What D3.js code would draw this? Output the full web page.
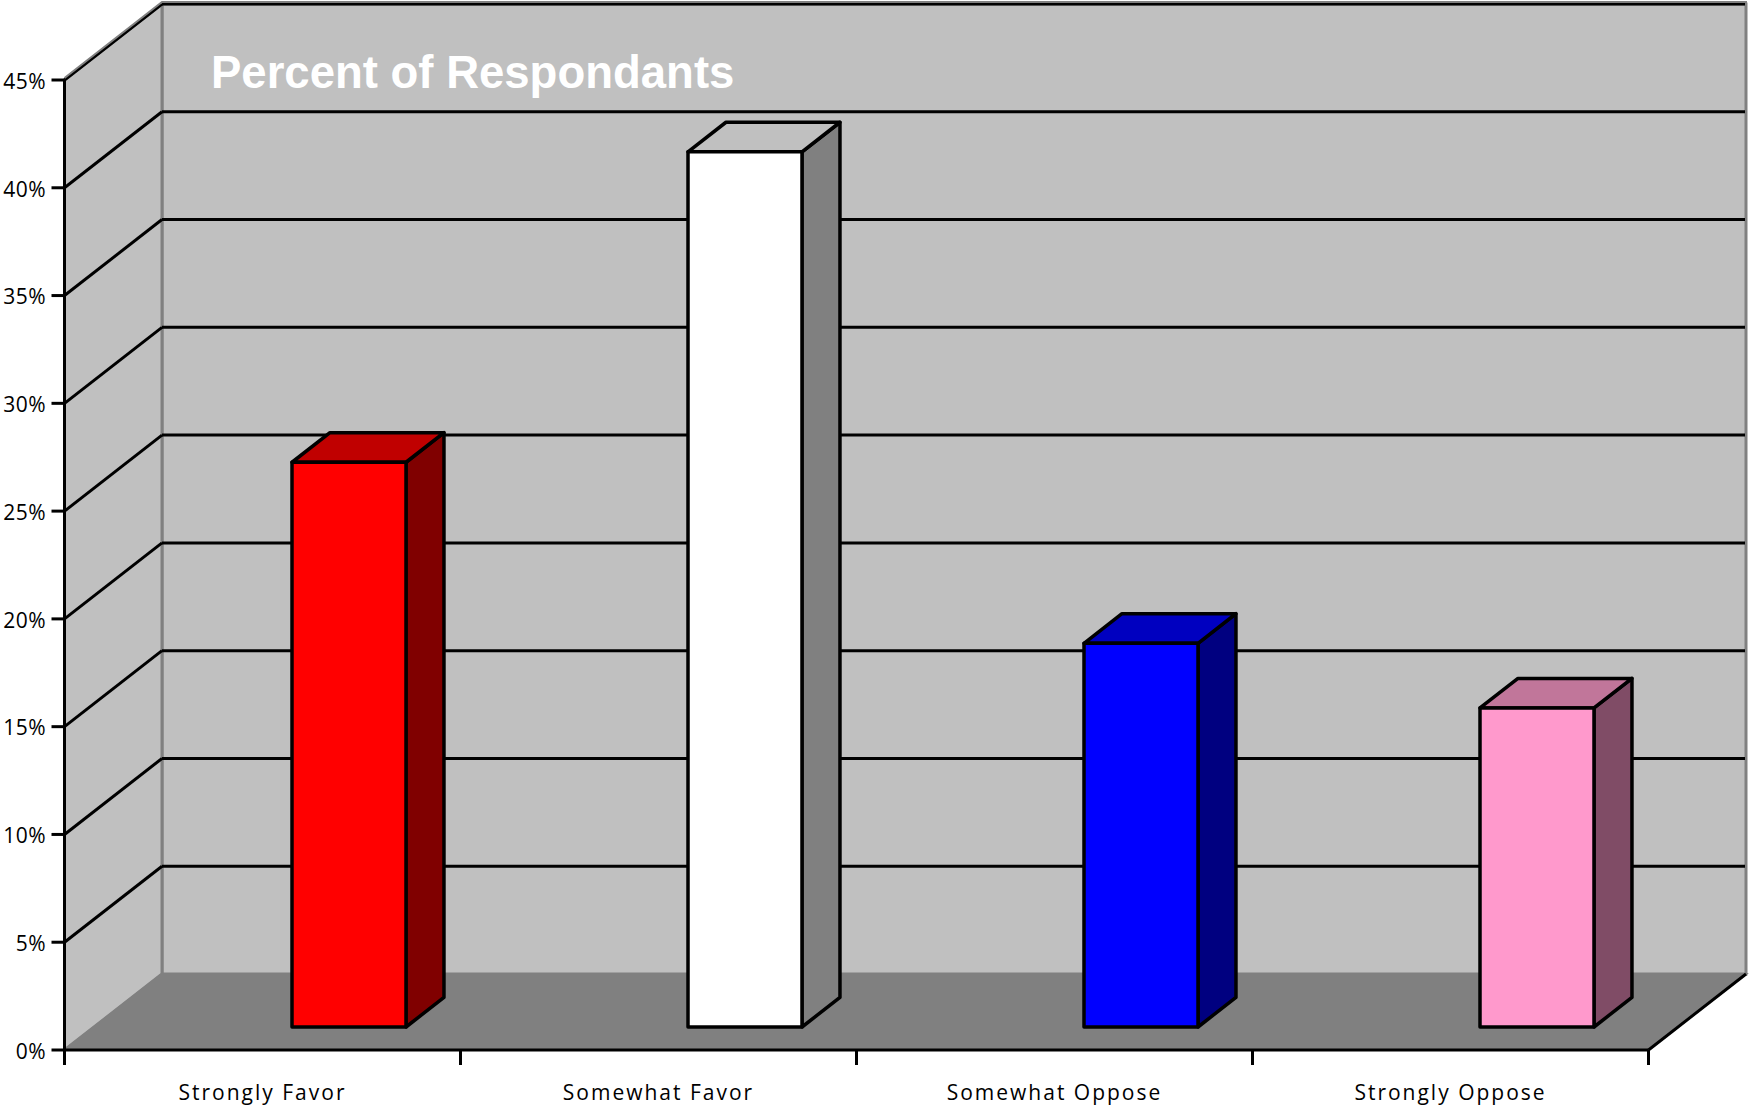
<!DOCTYPE html>
<html>
<head>
<meta charset="utf-8">
<script src="https://cdn.jsdelivr.net/npm/d3@7"></script>
<style>
  body { margin: 0; background: #fff; }
  svg { display: block; }
</style>
</head>
<body>
<div class="chart"></div>
<script>
// data
const categories = ["Strongly Favor", "Somewhat Favor", "Somewhat Oppose", "Strongly Oppose"];
const percents = [26.2, 40.6, 17.8, 14.8];
const yTicks = [0, 5, 10, 15, 20, 25, 30, 35, 40, 45];
const frontColors = ["#FF0000", "#FFFFFF", "#0000FF", "#FF99CC"];
const topColors = ["#C00000", "#C0C0C0", "#0000C0", "#C1769A"];
const sideColors = ["#800000", "#808080", "#000080", "#804C66"];
const title = "Percent of Respondants";

const width = 1749;
const height = 1108;

// depth of the 3d box
const DX = 97.5;
const DY = 76;
// bar position in depth (0 = front, 1 = back)
const z0 = 0.3026;
const z1 = 0.692;
const barW = 114;

const svg = d3.select('.chart')
  .append('svg')
  .attr('width', width)
  .attr('height', height)

const x = d3.scaleBand()
  .domain(categories)
  .range([64.5, 1648.5])
  .padding(0);

const y = d3.scaleLinear()
  .domain([0, 45])
  .range([1050, 80]);

const x0 = x.range()[0], x1 = x.range()[1];
const yMax = 45;

// project a world point at depth z
function p(px, v, z){
  return [px + z*DX, y(v) - z*DY];
}
function pts(arr){
  return arr.map(d => d.join(",")).join(" ");
}

// back wall
svg.append("polygon")
  .attr("points", pts([p(x0,0,1), p(x0,yMax,1), p(x1,yMax,1), p(x1,0,1)]))
  .attr("fill", "#C0C0C0")
  .attr("stroke", "#808080")
  .attr("stroke-width", 3)

// side wall
svg.append("polygon")
  .attr("points", pts([p(x0,0,0), p(x0,yMax,0), p(x0,yMax,1), p(x0,0,1)]))
  .attr("fill", "#C0C0C0")
  .attr("stroke", "#808080")
  .attr("stroke-width", 3)

// floor
svg.append("polygon")
  .attr("points", pts([p(x0,0,0), p(x0,0,1), p(x1,0,1), p(x1,0,0)]))
  .attr("fill", "#808080")
  .attr("stroke", "#808080")
  .attr("stroke-width", 2)

// gridlines on back wall
svg.selectAll(".grid-back")
  .data(yTicks.filter(d => d > 0))
  .enter()
  .append("line")
  .attr("x1", p(x0,0,1)[0])
  .attr("x2", p(x1,0,1)[0])
  .attr("y1", d => p(x0,d,1)[1])
  .attr("y2", d => p(x0,d,1)[1])
  .attr("stroke", "#000")
  .attr("stroke-width", 3)

// gridlines on side wall
svg.selectAll(".grid-side")
  .data(yTicks.filter(d => d > 0))
  .enter()
  .append("line")
  .attr("x1", x0)
  .attr("y1", d => y(d))
  .attr("x2", p(x0,0,1)[0])
  .attr("y2", d => p(x0,d,1)[1])
  .attr("stroke", "#000")
  .attr("stroke-width", 3)

// grey borders on the top edges
svg.append("polyline")
  .attr("points", pts([p(x0,yMax,0), p(x0,yMax,1), p(x1,yMax,1), p(x1,0,1)]))
  .attr("fill", "none")
  .attr("stroke", "#808080")
  .attr("stroke-width", 2)
  .attr("transform", "translate(0,-2)")

// right floor edge
svg.append("line")
  .attr("x1", x1).attr("y1", y(0))
  .attr("x2", p(x1,0,1)[0]).attr("y2", p(x1,0,1)[1])
  .attr("stroke", "#000")
  .attr("stroke-width", 3)

// y axis
svg.append("line")
  .attr("x1", x0).attr("x2", x0)
  .attr("y1", y(yMax)).attr("y2", y(0))
  .attr("stroke", "#000")
  .attr("stroke-width", 3)

svg.selectAll(".ytick")
  .data(yTicks)
  .enter()
  .append("line")
  .attr("x1", x0 - 13).attr("x2", x0)
  .attr("y1", d => y(d)).attr("y2", d => y(d))
  .attr("stroke", "#000")
  .attr("stroke-width", 3)

svg.selectAll(".ylabel")
  .data(yTicks)
  .enter()
  .append("text")
  .attr("x", 46)
  .attr("y", d => y(d))
  .attr("dy", "0.42em")
  .attr("text-anchor", "end")
  .attr("font-family", "'Open Sans', sans-serif")
  .attr("font-size", 21)
  .attr("letter-spacing", 0.5)
  .attr("fill", "#000")
  .text(d => d + "%")

// x axis
svg.append("line")
  .attr("x1", x0 - 1.5).attr("x2", x1)
  .attr("y1", y(0)).attr("y2", y(0))
  .attr("stroke", "#000")
  .attr("stroke-width", 3)

svg.selectAll(".xtick")
  .data(categories.map(d => x(d)).concat([x1]))
  .enter()
  .append("line")
  .attr("x1", d => d).attr("x2", d => d)
  .attr("y1", y(0)).attr("y2", y(0) + 15)
  .attr("stroke", "#000")
  .attr("stroke-width", 3)

svg.selectAll(".xlabel")
  .data(categories)
  .enter()
  .append("text")
  .attr("x", d => x(d) + x.bandwidth()/2)
  .attr("y", 1100)
  .attr("text-anchor", "middle")
  .attr("font-family", "'Open Sans', sans-serif")
  .attr("font-size", 21)
  .attr("letter-spacing", 2)
  .attr("fill", "#000")
  .text(d => d)

// bars
const bars = svg.selectAll(".bar")
  .data(percents)
  .enter()
  .append("g")

// side face
bars.append("polygon")
  .attr("points", (d,i) => {
    const bx = x(categories[i]) + x.bandwidth()/2 + barW;
    return pts([p(bx,0,z0), p(bx,d,z0), p(bx,d,z1), p(bx,0,z1)]);
  })
  .attr("fill", (d,i) => sideColors[i])
  .attr("stroke", "#000")
  .attr("stroke-width", 3.5)
  .attr("stroke-linejoin", "round")

// top face
bars.append("polygon")
  .attr("points", (d,i) => {
    const bx = x(categories[i]) + x.bandwidth()/2;
    return pts([p(bx,d,z0), p(bx,d,z1), p(bx+barW,d,z1), p(bx+barW,d,z0)]);
  })
  .attr("fill", (d,i) => topColors[i])
  .attr("stroke", "#000")
  .attr("stroke-width", 3.5)
  .attr("stroke-linejoin", "round")

// front face
bars.append("polygon")
  .attr("points", (d,i) => {
    const bx = x(categories[i]) + x.bandwidth()/2;
    return pts([p(bx,0,z0), p(bx,d,z0), p(bx+barW,d,z0), p(bx+barW,0,z0)]);
  })
  .attr("fill", (d,i) => frontColors[i])
  .attr("stroke", "#000")
  .attr("stroke-width", 3.5)
  .attr("stroke-linejoin", "round")

// title
svg.append("text")
  .attr("x", 211)
  .attr("y", 88)
  .attr("font-family", "'Liberation Sans', Arial, sans-serif")
  .attr("font-weight", "bold")
  .attr("font-size", 45.5)
  .attr("fill", "#fff")
  .text(title)
</script>
</body>
</html>
